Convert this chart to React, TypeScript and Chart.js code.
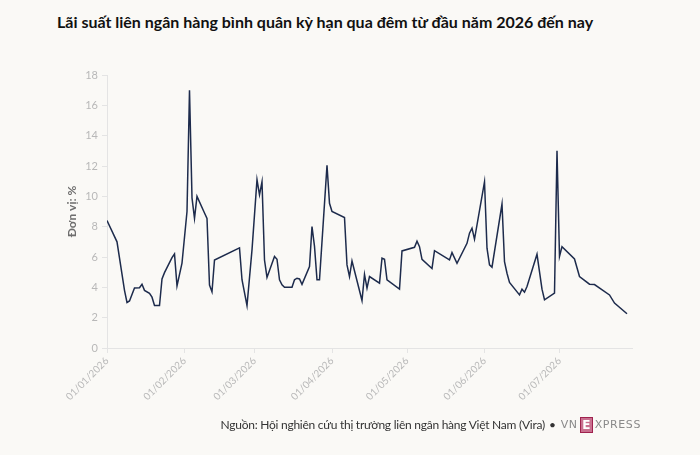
import React, { useEffect, useRef } from "react";
import { Chart, registerables } from "chart.js";

Chart.register(...registerables);

const TITLE = "Lãi suất liên ngân hàng bình quân kỳ hạn qua đêm từ đầu năm 2026 đến nay";
const SOURCE = "Nguồn: Hội nghiên cứu thị trường liên ngân hàng Việt Nam (Vira)";
const Y_TITLE = "Đơn vị: %";

const dates = [
  "2026-01-01", "2026-01-05", "2026-01-08", "2026-01-09", "2026-01-10", "2026-01-12",
  "2026-01-14", "2026-01-15", "2026-01-16", "2026-01-18", "2026-01-19", "2026-01-20",
  "2026-01-22", "2026-01-23", "2026-01-24", "2026-01-27", "2026-01-28", "2026-01-29",
  "2026-01-31", "2026-02-02", "2026-02-03", "2026-02-04", "2026-02-05", "2026-02-06",
  "2026-02-09", "2026-02-10", "2026-02-11", "2026-02-12", "2026-02-13", "2026-02-23",
  "2026-02-24", "2026-02-26", "2026-02-28", "2026-03-02", "2026-03-03", "2026-03-04",
  "2026-03-05", "2026-03-06", "2026-03-09", "2026-03-10", "2026-03-11", "2026-03-12",
  "2026-03-13", "2026-03-16", "2026-03-17", "2026-03-18", "2026-03-19", "2026-03-20",
  "2026-03-23", "2026-03-24", "2026-03-25", "2026-03-26", "2026-03-27", "2026-03-30",
  "2026-03-31", "2026-04-01", "2026-04-06", "2026-04-07", "2026-04-08", "2026-04-09",
  "2026-04-13", "2026-04-14", "2026-04-15", "2026-04-16", "2026-04-20", "2026-04-21",
  "2026-04-22", "2026-04-23", "2026-04-28", "2026-04-29", "2026-05-04", "2026-05-05",
  "2026-05-06", "2026-05-07", "2026-05-11", "2026-05-12", "2026-05-18", "2026-05-19",
  "2026-05-21", "2026-05-25", "2026-05-26", "2026-05-27", "2026-05-28", "2026-06-01",
  "2026-06-02", "2026-06-03", "2026-06-04", "2026-06-08", "2026-06-09", "2026-06-10",
  "2026-06-11", "2026-06-15", "2026-06-16", "2026-06-17", "2026-06-18", "2026-06-22",
  "2026-06-24", "2026-06-25", "2026-06-29", "2026-06-30", "2026-07-01", "2026-07-02",
  "2026-07-07", "2026-07-09", "2026-07-13", "2026-07-15", "2026-07-21", "2026-07-23",
  "2026-07-28",
];

const rates = [
  8.4, 7.0, 3.8, 3.0, 3.1, 3.95,
  3.97, 4.2, 3.8, 3.6, 3.35, 2.8,
  2.8, 4.55, 4.97, 5.96, 6.2, 4.1,
  5.6, 9.0, 17.0, 9.9, 8.55, 10.0,
  8.9, 8.55, 4.15, 3.7, 5.8, 6.6,
  4.5, 2.8, 6.47, 11.1, 10.1, 10.96,
  5.8, 4.65, 6.03, 5.85, 4.5, 4.16,
  4.0, 4.0, 4.5, 4.6, 4.55, 4.2,
  5.37, 8.0, 6.7, 4.5, 4.5, 12.04,
  9.54, 9.0, 8.6, 5.48, 4.7, 5.74,
  3.13, 4.85, 3.95, 4.71, 4.28, 5.92,
  5.85, 4.5, 3.88, 6.4, 6.64, 7.04,
  6.68, 5.85, 5.24, 6.42, 5.81, 6.29,
  5.59, 6.9, 7.57, 7.9, 7.17, 10.96,
  6.58, 5.48, 5.33, 9.49, 5.7, 4.93,
  4.32, 3.5, 3.88, 3.68, 4.05, 6.18,
  3.88, 3.18, 3.62, 13.0, 6.03, 6.68,
  5.87, 4.71, 4.21, 4.18, 3.5, 2.96,
  2.26,
];

const xTickDates = [
  "2026-01-01", "2026-02-01", "2026-03-01", "2026-04-01",
  "2026-05-01", "2026-06-01", "2026-07-01",
];

const Y_MIN = 0;
const Y_MAX = 18;
const Y_STEP = 2;
const X_END_DATE = "2026-07-30";

const BASE = Date.UTC(2026, 0, 1);
const toDay = (iso: string) => {
  const [y, m, d] = iso.split("-").map(Number);
  return Math.round((Date.UTC(y, m - 1, d) - BASE) / 86400000);
};
const fmtDay = (day: number) => {
  const dt = new Date(BASE + day * 86400000);
  const dd = String(dt.getUTCDate()).padStart(2, "0");
  const mm = String(dt.getUTCMonth() + 1).padStart(2, "0");
  return `${dd}/${mm}/${dt.getUTCFullYear()}`;
};

const FONT = "'Source Sans Pro', Lato, 'Noto Sans', sans-serif";

function LineChart() {
  const ref = useRef<HTMLCanvasElement | null>(null);
  useEffect(() => {
    if (!ref.current) return;
    const points = dates.map((d, i) => ({ x: toDay(d), y: rates[i] }));
    const tickDays = xTickDates.map(toDay);
    const chart = new Chart(ref.current, {
      type: "line",
      data: {
        datasets: [
          {
            data: points,
            borderColor: "#1d2b4c",
            borderWidth: 1.5,
            pointRadius: 0,
            tension: 0,
            fill: false,
          },
        ],
      },
      options: {
        animation: false,
        responsive: true,
        maintainAspectRatio: false,
        layout: { padding: { top: 15, right: 68, left: 0, bottom: 0 } },
        plugins: { legend: { display: false }, tooltip: { enabled: false } },
        scales: {
          x: {
            type: "linear",
            min: 0,
            max: toDay(X_END_DATE),
            afterBuildTicks: (scale: any) => {
              scale.ticks = tickDays.map((v) => ({ value: v }));
            },
            afterFit: (scale: any) => {
              scale.height = 72;
            },
            ticks: {
              autoSkip: false,
              maxRotation: 45,
              minRotation: 45,
              padding: 2,
              color: "#b8b8b8",
              font: { family: FONT, size: 10 },
              callback: (v: any) => fmtDay(Number(v)),
            },
            grid: {
              drawOnChartArea: false,
              drawTicks: true,
              tickLength: 5,
              color: "#e4e4e4",
            },
            border: { color: "#e4e4e4" },
          },
          y: {
            min: Y_MIN,
            max: Y_MAX,
            afterFit: (scale: any) => {
              scale.width = 107;
            },
            ticks: {
              stepSize: Y_STEP,
              padding: 4,
              color: "#b8b8b8",
              font: { family: FONT, size: 11 },
            },
            grid: {
              drawOnChartArea: false,
              drawTicks: true,
              tickLength: 5,
              color: "#e4e4e4",
            },
            border: { color: "#e4e4e4" },
            title: {
              display: true,
              text: Y_TITLE,
              color: "#6e6e6e",
              font: { family: FONT, size: 12, weight: "bold" },
              padding: { top: 65, bottom: 0 },
            },
          },
        },
      },
    } as any);
    return () => chart.destroy();
  }, []);
  return <canvas ref={ref} />;
}

export default function App() {
  return (
    <div
      style={{
        position: "fixed",
        left: 0,
        top: 0,
        width: 700,
        height: 455,
        background: "#faf9f6",
        fontFamily: FONT,
        overflow: "hidden",
      }}
    >
      <div
        style={{
          position: "absolute",
          left: 57,
          top: 12,
          fontSize: 16,
          fontWeight: 700,
          color: "#111",
          whiteSpace: "nowrap",
          lineHeight: "20px",
        }}
      >
        {TITLE}
      </div>
      <div style={{ position: "absolute", left: 0, top: 60, width: 700, height: 360 }}>
        <LineChart />
      </div>
      <div
        style={{
          position: "absolute",
          right: 59,
          top: 416,
          display: "flex",
          alignItems: "center",
          whiteSpace: "nowrap",
          color: "#333",
          fontSize: 12,
          letterSpacing: -0.25,
          lineHeight: "18px",
        }}
      >
        <span>{SOURCE}</span>
        <span style={{ margin: "0 5px 0 4px" }}>•</span>
        <span style={{ color: "#8a8a8a", fontSize: 11, letterSpacing: 0.6, fontFamily: "'DejaVu Sans', sans-serif" }}>VN</span>
        <span
          style={{
            display: "inline-flex",
            alignItems: "center",
            justifyContent: "center",
            width: 13,
            height: 16,
            margin: "0 2px",
            background: "#c9708f",
            border: "1.5px solid #9f224e",
            color: "#fff",
            fontSize: 12,
            fontWeight: 700,
            boxSizing: "border-box",
            lineHeight: "12px",
            fontFamily: "'DejaVu Sans', sans-serif",
          }}
        >
          E
        </span>
        <span style={{ color: "#8a8a8a", fontSize: 11, letterSpacing: 0.6, fontFamily: "'DejaVu Sans', sans-serif" }}>XPRESS</span>
      </div>
    </div>
  );
}
